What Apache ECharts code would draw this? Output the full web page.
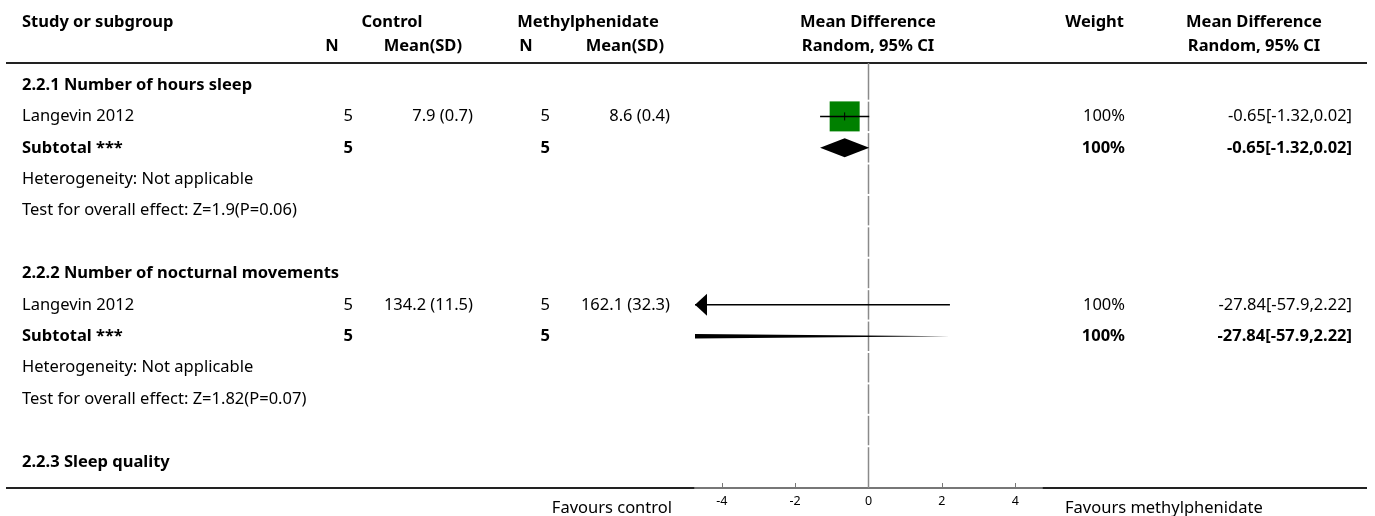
<!DOCTYPE html>
<html><head><meta charset="utf-8">
<script src="https://cdn.jsdelivr.net/npm/echarts@6/dist/echarts.min.js"></script>
<style>html,body{margin:0;padding:0;background:#fff}#c{width:1375px;height:516px}</style>
</head><body><div id="c"></div>
<script>
// ---------- data ----------
const rowLabels = [
  '2.2.1 Number of hours sleep', 'Langevin 2012', 'Subtotal ***',
  'Heterogeneity: Not applicable', 'Test for overall effect: Z=1.9(P=0.06)', '',
  '2.2.2 Number of nocturnal movements', 'Langevin 2012', 'Subtotal ***',
  'Heterogeneity: Not applicable', 'Test for overall effect: Z=1.82(P=0.07)', '',
  '2.2.3 Sleep quality'
];
const rowTypes = ['group','study','subtotal','note','note','blank','group','study','subtotal','note','note','blank','group'];
const controlN = [null,5,5,null,null,null,null,5,5,null,null,null,null];
const controlMeanSD = ['','7.9 (0.7)','','','','','','134.2 (11.5)','','','','',''];
const methN = [null,5,5,null,null,null,null,5,5,null,null,null,null];
const methMeanSD = ['','8.6 (0.4)','','','','','','162.1 (32.3)','','','','',''];
const meanDiff = [null,-0.65,-0.65,null,null,null,null,-27.84,-27.84,null,null,null,null];
const ciLower = [null,-1.32,-1.32,null,null,null,null,-57.9,-57.9,null,null,null,null];
const ciUpper = [null,0.02,0.02,null,null,null,null,2.22,2.22,null,null,null,null];
const weights = [null,100,100,null,null,null,null,100,100,null,null,null,null];
const effectLabels = ['','-0.65[-1.32,0.02]','-0.65[-1.32,0.02]','','','','','-27.84[-57.9,2.22]','-27.84[-57.9,2.22]','','','',''];
const xTicks = [-4,-2,0,2,4];
const xMin = -4.73, xMax = 4.73;
const headerTop = ['Study or subgroup','Control','Methylphenidate','Mean Difference','Weight','Mean Difference'];
const headerSub = ['N','Mean(SD)','N','Mean(SD)','Random, 95% CI','Random, 95% CI'];
const favours = ['Favours control','Favours methylphenidate'];

// ---------- layout / style ----------
const FF = '"Noto Sans", Lato, sans-serif';
const FS = 16.5;
const COL = {label:22, cN:353, cM:473, mN:550, mM:670, w:1125, eff:1352};
const GRID = {left:695, right:1042, top:63, bottom:488};
const Y_MIN = -0.70, Y_MAX = 12.83;
const SQ = 30, DIA = 9.5;

function txt(text, x, y, align, bold, size) {
  return {type:'text', style:{text:String(text), x:x, y:y, align:align, verticalAlign:'middle',
    font:(bold?'bold ':'') + (size||FS) + 'px ' + FF, fill:'#000'}};
}

function tableItem(params, api) {
  const i = api.value(1);
  const y = api.coord([0, i])[1];
  const t = rowTypes[i];
  const bold = (t === 'group' || t === 'subtotal');
  const sb = t === 'subtotal';
  const kids = [];
  const add = (v, x, al, b) => { if (v === '' || v == null) return; kids.push(txt(v, x, y, al, b)); };
  add(rowLabels[i], COL.label, 'left', bold);
  add(controlN[i], COL.cN, 'right', sb);
  add(controlMeanSD[i], COL.cM, 'right', sb);
  add(methN[i], COL.mN, 'right', sb);
  add(methMeanSD[i], COL.mM, 'right', sb);
  add(weights[i] == null ? '' : weights[i] + '%', COL.w, 'right', sb);
  add(effectLabels[i], COL.eff, 'right', sb);
  return {type:'group', children:kids};
}

function clipPoly(pts, xl, xr) {
  function clip(p, inside, inter) {
    const out = [];
    for (let k = 0; k < p.length; k++) {
      const a = p[k], b = p[(k + 1) % p.length];
      const ia = inside(a), ib = inside(b);
      if (ia) out.push(a);
      if (ia !== ib) out.push(inter(a, b));
    }
    return out;
  }
  const ix = (X) => (a, b) => [X, a[1] + (b[1] - a[1]) * (X - a[0]) / (b[0] - a[0])];
  let p = clip(pts, q => q[0] >= xl, ix(xl));
  p = clip(p, q => q[0] <= xr, ix(xr));
  return p;
}

function forestItem(params, api) {
  const i = api.value(1);
  const md = meanDiff[i], lo = ciLower[i], hi = ciUpper[i], w = weights[i];
  const y = api.coord([0, i])[1];
  const px = v => api.coord([v, i])[0];
  const xl = px(xMin), xr = px(xMax);
  const kids = [];
  if (rowTypes[i] === 'study') {
    const a = px(Math.max(lo, xMin)), b = px(Math.min(hi, xMax));
    if (md >= xMin && md <= xMax) {
      const s = SQ * w / 100;
      kids.push({type:'rect', shape:{x:px(md) - s / 2, y:y - s / 2, width:s, height:s}, style:{fill:'#008000'}});
      kids.push({type:'line', shape:{x1:px(md), y1:y - 4, x2:px(md), y2:y + 4}, style:{stroke:'#000', lineWidth:1}});
    }
    kids.push({type:'line', shape:{x1:a, y1:y, x2:b, y2:y}, style:{stroke:'#000', lineWidth:1.5}});
    if (lo < xMin) kids.push({type:'polygon', shape:{points:[[a, y], [a + 12, y - 11], [a + 12, y + 11]]}, style:{fill:'#000'}});
    if (hi > xMax) kids.push({type:'polygon', shape:{points:[[b, y], [b - 12, y - 11], [b - 12, y + 11]]}, style:{fill:'#000'}});
  } else {
    const pts = [[px(lo), y], [px(md), y - DIA], [px(hi), y], [px(md), y + DIA]];
    kids.push({type:'polygon', shape:{points:clipPoly(pts, xl, xr)}, style:{fill:'#000'}});
  }
  return {type:'group', children:kids};
}

function zeroLineItem(params, api) {
  const bounds = [Y_MIN];
  for (let k = 0; k < rowLabels.length; k++) bounds.push(k + 0.5);
  bounds[bounds.length - 1] = Y_MAX;
  const x = api.coord([0, 0])[0];
  const kids = [];
  for (let k = 0; k < bounds.length - 1; k++) {
    const y1 = api.coord([0, bounds[k]])[1] + (k === 0 ? 0 : 1);
    const y2 = api.coord([0, bounds[k + 1]])[1] - (k === bounds.length - 2 ? 0 : 1);
    kids.push({type:'line', shape:{x1:x, y1:y1, x2:x, y2:y2}, style:{stroke:'#8a8a8a', lineWidth:1.5}});
  }
  return {type:'group', children:kids};
}

const rowIdx = rowLabels.map((_, i) => [0, i]);
const forestData = [];
meanDiff.forEach((v, i) => { if (v != null) forestData.push([v, i]); });

const H1 = 22, H2 = 46;
const graphics = [
  txt(headerTop[0], COL.label, H1, 'left', true),
  txt(headerTop[1], 392, H1, 'center', true),
  txt(headerTop[2], 588, H1, 'center', true),
  txt(headerTop[3], 868, H1, 'center', true),
  txt(headerTop[4], 1124, H1, 'right', true),
  txt(headerTop[5], 1254, H1, 'center', true),
  txt(headerSub[0], 332, H2, 'center', true),
  txt(headerSub[1], 462, H2, 'right', true),
  txt(headerSub[2], 526, H2, 'center', true),
  txt(headerSub[3], 664, H2, 'right', true),
  txt(headerSub[4], 868, H2, 'center', true),
  txt(headerSub[5], 1254, H2, 'center', true),
  txt(favours[0], 672, 508, 'right', false),
  txt(favours[1], 1065, 508, 'left', false),
  {type:'line', shape:{x1:6, y1:63, x2:1367, y2:63}, style:{stroke:'#222', lineWidth:2}},
  {type:'line', shape:{x1:6, y1:488, x2:GRID.left, y2:488}, style:{stroke:'#222', lineWidth:2}},
  {type:'line', shape:{x1:GRID.right, y1:488, x2:1367, y2:488}, style:{stroke:'#222', lineWidth:2}}
];

const chart = echarts.init(document.getElementById('c'), null, {renderer:'canvas'});
chart.setOption({
  animation:false,
  backgroundColor:'#fff',
  grid:{left:GRID.left, width:GRID.right - GRID.left, top:GRID.top, height:GRID.bottom - GRID.top, containLabel:false},
  xAxis:{type:'value', min:xMin, max:xMax, position:'bottom', splitLine:{show:false},
    axisLine:{show:true, onZero:false, lineStyle:{color:'#777', width:2}},
    axisTick:{show:true, inside:true, length:5, lineStyle:{color:'#777', width:1}, customValues:xTicks},
    axisLabel:{show:true, customValues:xTicks, fontSize:12.5, fontFamily:FF, color:'#000', margin:7}},
  yAxis:{type:'value', inverse:true, min:Y_MIN, max:Y_MAX, show:false, splitLine:{show:false}},
  graphic:graphics,
  series:[
    {type:'custom', renderItem:zeroLineItem, data:[[0, 0]], z:1, silent:true},
    {type:'custom', renderItem:tableItem, data:rowIdx, encode:{x:0, y:1}, z:3, silent:true},
    {type:'custom', renderItem:forestItem, data:forestData, encode:{x:0, y:1}, z:4, silent:true, clip:false}
  ]
});
</script></body></html>
